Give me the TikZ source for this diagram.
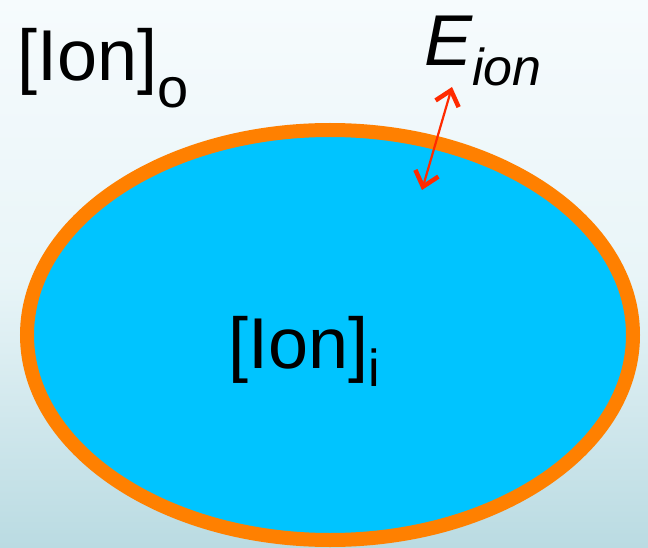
\documentclass[tikz,border=0pt]{standalone}
\usepackage{fontspec}
\setmainfont{Liberation Sans}
\usetikzlibrary{arrows.meta}
\definecolor{bgtop}{HTML}{F6FBFD}
\definecolor{bgmid}{HTML}{E9F5F8}
\definecolor{bgbot}{HTML}{BADBE2}
\definecolor{cellfill}{HTML}{00C4FF}
\definecolor{membrane}{HTML}{FF8000}
\definecolor{arrowred}{HTML}{FF2A00}
\tikzset{
  label text/.style={inner sep=0pt, anchor=base west, text=black},
  energy arrow/.style={draw=arrowred, line width=2.2pt,
    arrows={Straight Barb[length=14pt,width=24pt,line width=4.5pt]-Straight Barb[length=14pt,width=24pt,line width=4.5pt]}}
}
\begin{document}
\begin{tikzpicture}[x=1pt,y=-1pt]
\useasboundingbox (0,0) rectangle (648,548);
\shade[top color=bgtop, bottom color=bgbot, middle color=bgmid] (0,0) rectangle (648,548);
\draw[membrane, fill=cellfill, line width=14pt] (330,335) ellipse [x radius=303, y radius=205];
\node[label text] (ionout) at (17,81) {\fontsize{72}{80}\selectfont [Ion]\raisebox{-27pt}{\fontsize{56}{60}\selectfont o}};
\node[label text] (ionin) at (228,368) {\fontsize{72}{80}\selectfont [Ion]\raisebox{-18pt}{\fontsize{52}{60}\selectfont i}};
\node[label text] (eion) at (424,66) {\fontsize{72}{80}\selectfont\itshape E\raisebox{-20pt}{\fontsize{52}{60}\selectfont ion}};
\coordinate (atop) at (452,87);
\coordinate (abot) at (422,190);
\draw[energy arrow] (abot) -- (atop);
\end{tikzpicture}
\end{document}
